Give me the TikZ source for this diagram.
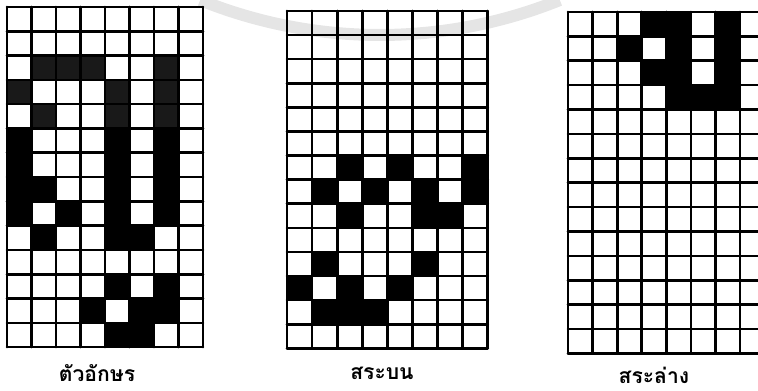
\documentclass[tikz,border=0pt]{standalone}
\usepackage{fontspec}
\newfontfamily\thaifont[Script=Thai]{Loma}

\begin{document}
	\begin{tikzpicture}[
		x=0.02cm, y=0.02cm,
		gridline/.style={line width=1.5pt, line cap=round},
		cell/.style={fill=black},
		greycell/.style={fill=black!90},
		watermark/.style={gray!20, line width=0.24cm},
		caption/.style={font=\thaifont\bfseries\large, inner sep=1pt}
		]
		
		\useasboundingbox (0,0) rectangle (758,391);
		\clip (0,0) rectangle (758,391);
		
		\draw[watermark] (380,836) ++(248:480) arc (248:292:480);
		
		\begin{scope}[shift={(7,384)}, x=0.49cm, y=-0.486cm]
			\foreach \c/\r in {1/2,2/2,3/2,6/2,0/3,4/3,6/3,1/4,4/4,6/4}
				\fill[greycell] (\c,\r) rectangle ++(1,1);
			\foreach \c/\r in {0/5,4/5,6/5,0/6,4/6,6/6,0/7,1/7,4/7,6/7,
				0/8,2/8,4/8,6/8,1/9,4/9,5/9,4/11,6/11,3/12,5/12,6/12,4/13,5/13}
				\fill[cell] (\c,\r) rectangle ++(1,1);
			\foreach \i in {0,...,8}
				\draw[gridline] (\i,0) -- (\i,14);
			\foreach \j in {0,...,14}
				\draw[gridline] (0,\j) -- (8,\j);
		\end{scope}
		
		\begin{scope}[shift={(287,380)}, x=0.502cm, y=-0.482cm]
			\foreach \c/\r in {2/6,4/6,7/6,1/7,3/7,5/7,7/7,2/8,5/8,6/8,
				1/10,5/10,0/11,2/11,4/11,1/12,2/12,3/12}
				\fill[cell] (\c,\r) rectangle ++(1,1);
			\foreach \i in {0,...,8}
				\draw[gridline] (\i,0) -- (\i,14);
			\foreach \j in {0,...,14}
				\draw[gridline] (0,\j) -- (8,\j);
		\end{scope}
		
		\begin{scope}[shift={(568,379)}, x=0.492cm, y=-0.488cm]
			\foreach \c/\r in {3/0,4/0,6/0,2/1,4/1,6/1,3/2,4/2,6/2,4/3,5/3,6/3}
				\fill[cell] (\c,\r) rectangle ++(1,1);
			\foreach \i in {0,...,8}
				\draw[gridline] (\i,0) -- (\i,14);
			\foreach \j in {0,...,14}
				\draw[gridline] (0,\j) -- (8,\j);
		\end{scope}
		
		\node[caption] (letter) at (97,18) {ตัวอักษร};
		\node[caption] (upper) at (382,18) {สระบน};
		\node[caption] (lower) at (654,16) {สระล่าง};
		
	\end{tikzpicture}
\end{document}
